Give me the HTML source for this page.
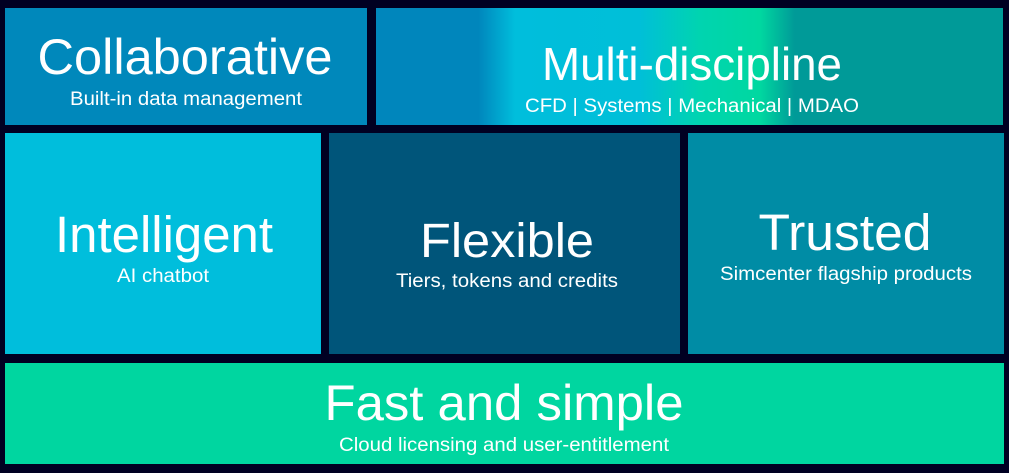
<!DOCTYPE html>
<html><head><meta charset="utf-8"><style>html,body{margin:0;padding:0;background:#000022;}svg{display:block}</style></head>
<body>
<svg width="1009" height="473" viewBox="0 0 1009 473" xmlns="http://www.w3.org/2000/svg" font-family="Liberation Sans, Arial, sans-serif" fill="#fff">
<defs>
<linearGradient id="g" x1="376" y1="0" x2="1003" y2="0" gradientUnits="userSpaceOnUse">
<stop offset="0" stop-color="#0086bc"/>
<stop offset="0.163" stop-color="#0086bc"/>
<stop offset="0.222" stop-color="#00bedc"/>
<stop offset="0.42" stop-color="#00bfd8"/>
<stop offset="0.516" stop-color="#00d4b0"/>
<stop offset="0.612" stop-color="#00d8a0"/>
<stop offset="0.668" stop-color="#009a98"/>
<stop offset="1" stop-color="#009a98"/>
</linearGradient>
</defs>
<rect width="1009" height="473" fill="#000022"/>
<rect x="5" y="8" width="362" height="117" fill="#0088bb"/>
<rect x="376" y="8" width="627" height="117" fill="url(#g)"/>
<rect x="5" y="133" width="316" height="221" fill="#00bedc"/>
<rect x="329" y="133" width="351" height="221" fill="#00557a"/>
<rect x="688" y="133" width="316" height="221" fill="#008ca5"/>
<rect x="5" y="363" width="999" height="101" fill="#00d6a0"/>

<g text-anchor="middle">
<text x="185" y="74" font-size="50" textLength="295" lengthAdjust="spacingAndGlyphs">Collaborative</text>
<text x="186" y="105" font-size="19" textLength="232" lengthAdjust="spacingAndGlyphs">Built-in data management</text>

<text x="692" y="80" font-size="46" textLength="300" lengthAdjust="spacingAndGlyphs">Multi-discipline</text>
<text x="692" y="112" font-size="19" textLength="334" lengthAdjust="spacingAndGlyphs">CFD | Systems | Mechanical | MDAO</text>

<text x="164" y="252" font-size="51" textLength="218" lengthAdjust="spacingAndGlyphs">Intelligent</text>
<text x="163" y="282" font-size="19" textLength="92" lengthAdjust="spacingAndGlyphs">AI chatbot</text>

<text x="507" y="257" font-size="48" textLength="174" lengthAdjust="spacingAndGlyphs">Flexible</text>
<text x="507" y="287" font-size="19" textLength="222" lengthAdjust="spacingAndGlyphs">Tiers, tokens and credits</text>

<text x="845" y="250" font-size="51" textLength="173" lengthAdjust="spacingAndGlyphs">Trusted</text>
<text x="846" y="280" font-size="19" textLength="252" lengthAdjust="spacingAndGlyphs">Simcenter flagship products</text>

<text x="504" y="420" font-size="50" textLength="359" lengthAdjust="spacingAndGlyphs">Fast and simple</text>
<text x="504" y="451" font-size="19" textLength="330" lengthAdjust="spacingAndGlyphs">Cloud licensing and user-entitlement</text>
</g>
</svg>
</body></html>
